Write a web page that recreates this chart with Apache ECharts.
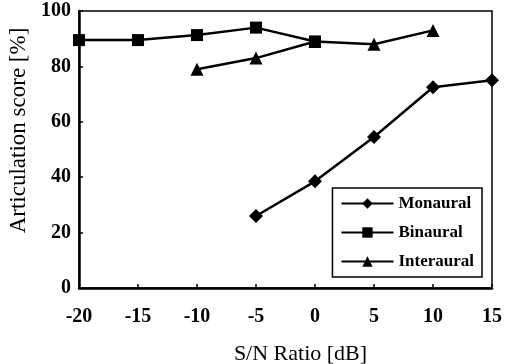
<!DOCTYPE html>
<html>
<head>
<meta charset="utf-8">
<script src="https://cdn.jsdelivr.net/npm/echarts@6/dist/echarts.min.js"></script>
<style>
html, body { margin: 0; padding: 0; background: #fff; }
#chart { width: 506px; height: 364px; }
</style>
</head>
<body>
<div id="chart"></div>
<script>
// S/N ratio in dB
var snr = [-20, -15, -10, -5, 0, 5, 10, 15];
var monaural = [null, null, null, 26, 38.5, 54.5, 72.5, 75];
var binaural = [89.5, 89.5, 91.3, 94, 89, null, null, null];
var interaural = [null, null, 79, 83, 89, 88, 93, null];

function pairs(vals) {
	var out = [];
	for (var i = 0; i < snr.length; i++) {
		if (vals[i] != null) out.push([snr[i], vals[i]]);
	}
	return out;
}

var font = "'Liberation Serif', 'DejaVu Serif', serif";
var myChart = echarts.init(document.getElementById('chart'));
var option = {
	backgroundColor: '#fff',
	animation: false,
	textStyle: { fontFamily: font, color: '#000' },
	grid: {
		left: 79, right: 14, top: 11, bottom: 76,
		outerBoundsMode: 'none', containLabel: false,
		show: true, borderColor: '#000', borderWidth: 1.5
	},
	legend: {
		orient: 'vertical',
		right: 24, top: 188,
		itemWidth: 52, itemHeight: 13, itemGap: 12,
		padding: [7, 8, 7, 8],
		borderColor: '#000', borderWidth: 1.5,
		backgroundColor: '#fff',
		textStyle: { fontFamily: font, fontSize: 17, fontWeight: 'bold', color: '#000' },
		data: ['Monaural', 'Binaural', 'Interaural']
	},
	xAxis: {
		type: 'value', min: -20, max: 15, interval: 5,
		name: 'S/N Ratio [dB]', nameLocation: 'middle', nameGap: 55,
		nameTextStyle: { fontFamily: font, fontSize: 22, color: '#000', padding: [0, 0, 0, 30] },
		axisLine: { onZero: false, lineStyle: { color: '#000', width: 2.5 } },
		axisTick: { inside: true, length: 4, lineStyle: { color: '#000', width: 1.5 } },
		axisLabel: { fontFamily: font, fontSize: 20, fontWeight: 'bold', color: '#000', margin: 19 },
		splitLine: { show: false }
	},
	yAxis: {
		type: 'value', min: 0, max: 100, interval: 20,
		name: 'Articulation score [%]', nameLocation: 'middle', nameGap: 45,
		nameTextStyle: { fontFamily: font, fontSize: 23, color: '#000', padding: [0, 0, 0, 38] },
		axisLine: { show: true, onZero: false, lineStyle: { color: '#000', width: 2.5 } },
		axisTick: { show: true, inside: true, length: 4, lineStyle: { color: '#000', width: 1.5 } },
		axisLabel: { fontFamily: font, fontSize: 20, fontWeight: 'bold', color: '#000', margin: 8 },
		splitLine: { show: false }
	},
	series: [
		{
			name: 'Monaural', type: 'line', data: pairs(monaural),
			symbol: 'diamond', symbolSize: 14,
			lineStyle: { color: '#000', width: 2.5 },
			itemStyle: { color: '#000' }
		},
		{
			name: 'Binaural', type: 'line', data: pairs(binaural),
			symbol: 'rect', symbolSize: 12,
			lineStyle: { color: '#000', width: 2.5 },
			itemStyle: { color: '#000' }
		},
		{
			name: 'Interaural', type: 'line', data: pairs(interaural),
			symbol: 'triangle', symbolSize: 13,
			lineStyle: { color: '#000', width: 2.5 },
			itemStyle: { color: '#000' }
		}
	]
};
myChart.setOption(option);
</script>
</body>
</html>
